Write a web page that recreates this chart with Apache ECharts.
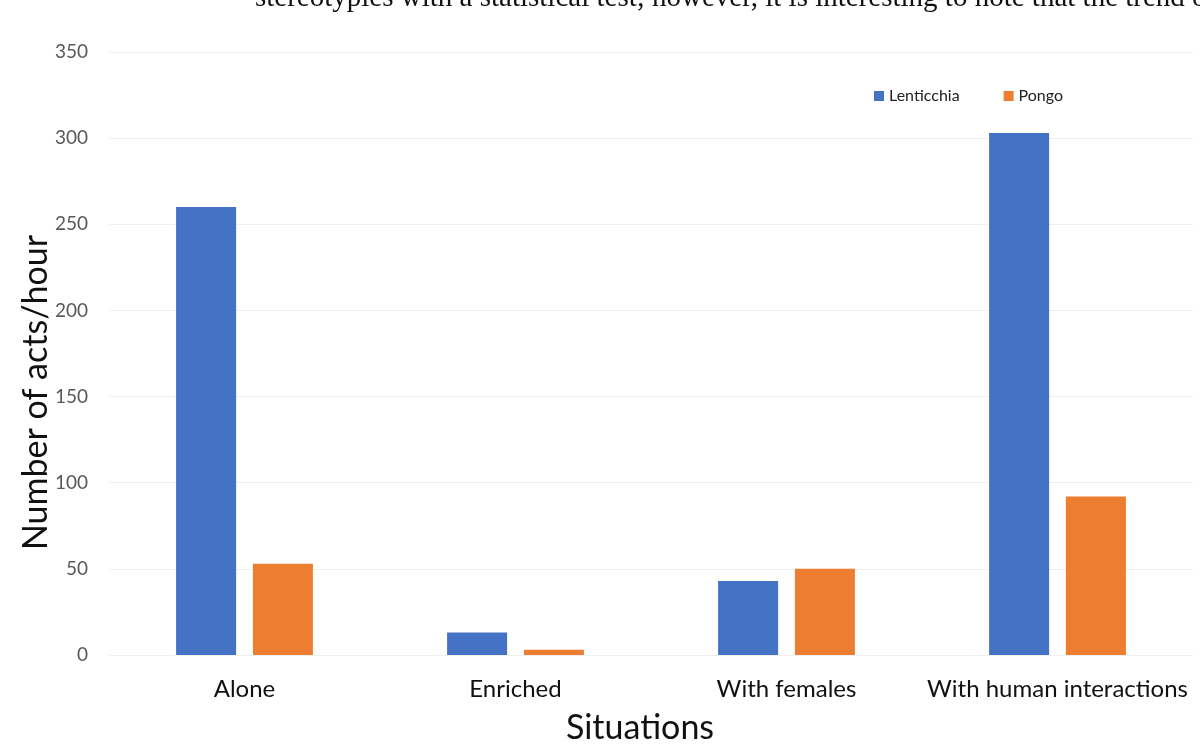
<!DOCTYPE html>
<html>
<head>
<meta charset="utf-8">
<script src="https://cdn.jsdelivr.net/npm/echarts@6/dist/echarts.min.js"></script>
<style>
  html, body { margin: 0; padding: 0; background: #fff; }
  #chart { width: 1200px; height: 749px; }
</style>
</head>
<body>
<div id="chart"></div>
<script>
// Stereotypic acts per hour by situation
const categories = ['Alone', 'Enriched', 'With females', 'With human interactions'];
const lenticchia = [260, 13, 43, 303];
const pongo = [53, 3, 50, 92];
const yTicks = { min: 0, max: 350, interval: 50 };

const FONT = 'Lato, "Open Sans", sans-serif';

const chart = echarts.init(document.getElementById('chart'), null, { renderer: 'canvas' });
chart.setOption({
  backgroundColor: '#ffffff',
  animation: false,
  textStyle: { fontFamily: FONT },
  graphic: [
    {
      type: 'text',
      left: 255,
      top: -16,
      style: {
        text: 'stereotypies with a statistical test; however, it is interesting to note that the trend o',
        font: '29px "Liberation Serif", "DejaVu Serif", serif',
        fill: '#111'
      }
    }
  ],
  legend: {
    data: ['Lenticchia', 'Pongo'],
    left: 874,
    top: 88,
    padding: 0,
    itemWidth: 10,
    itemHeight: 10,
    itemGap: 44,
    icon: 'rect',
    textStyle: { fontSize: 16, color: '#222', fontFamily: FONT }
  },
  grid: { left: 109, right: 7, top: 52, bottom: 94, containLabel: false, outerBoundsMode: 'none' },
  xAxis: {
    type: 'category',
    data: categories,
    name: 'Situations',
    nameLocation: 'middle',
    nameGap: 56,
    nameMoveOverlap: false,
    nameTextStyle: { fontSize: 34, color: '#111', fontFamily: FONT, padding: [0, 22, 0, 0] },
    axisLine: { show: false },
    axisTick: { show: false },
    axisLabel: { fontSize: 24, color: '#111', margin: 22, interval: 0, fontFamily: FONT }
  },
  yAxis: {
    type: 'value',
    min: yTicks.min,
    max: yTicks.max,
    interval: yTicks.interval,
    name: 'Number of acts/hour',
    nameLocation: 'middle',
    nameGap: 56,
    nameMoveOverlap: false,
    nameTextStyle: { fontSize: 34, color: '#111', fontFamily: FONT, padding: [0, 78, 0, 0] },
    axisLine: { show: false },
    axisTick: { show: false },
    axisLabel: { fontSize: 19, color: '#595959', margin: 21, fontFamily: FONT },
    splitLine: { lineStyle: { color: '#efefef', width: 1 } }
  },
  series: [
    {
      name: 'Lenticchia',
      type: 'bar',
      data: lenticchia,
      barWidth: 60,
      barGap: '28%',
      itemStyle: { color: '#4472C4' }
    },
    {
      name: 'Pongo',
      type: 'bar',
      data: pongo,
      barWidth: 60,
      itemStyle: { color: '#ED7D31' }
    }
  ]
});
</script>
</body>
</html>
